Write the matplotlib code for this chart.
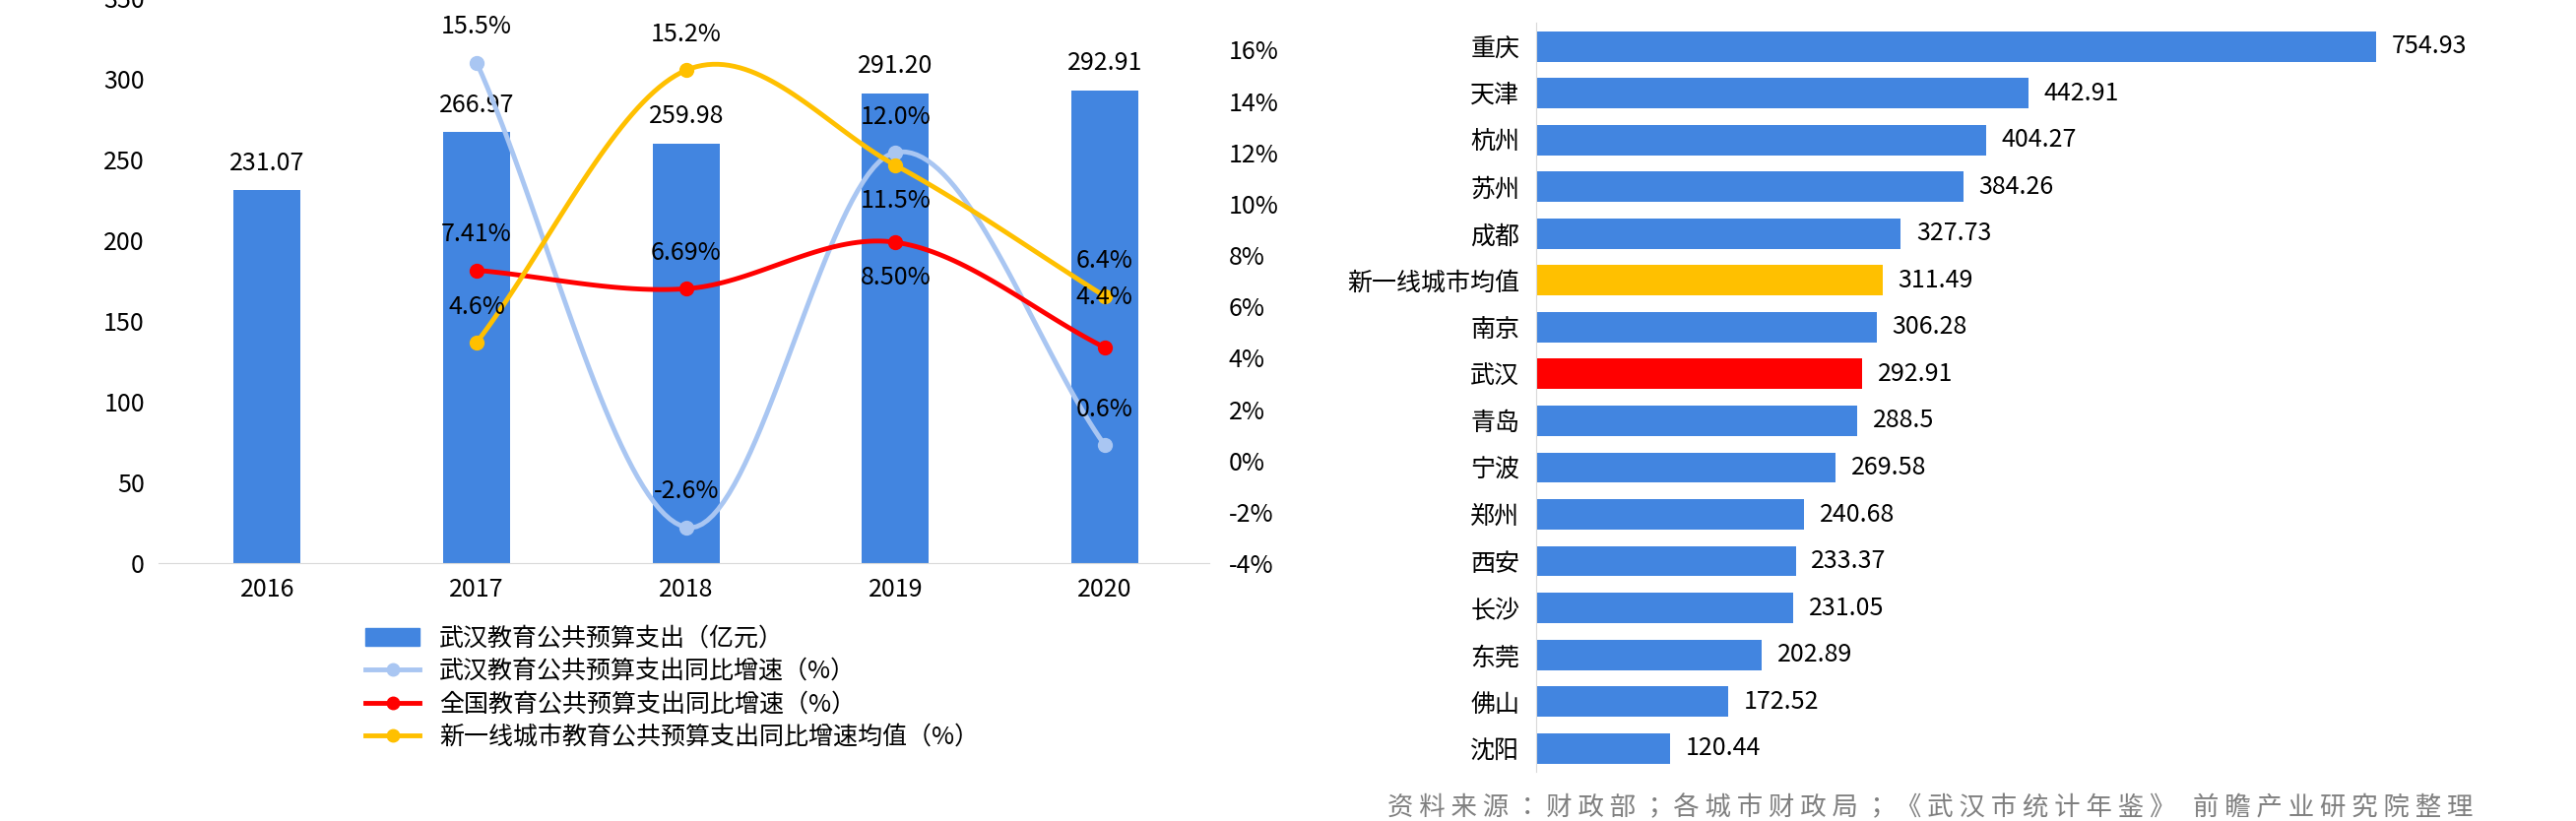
import matplotlib
matplotlib.use("Agg")
import matplotlib.pyplot as plt
from matplotlib import font_manager
import numpy as np
from matplotlib.lines import Line2D
from matplotlib.patches import Patch

# make sure a CJK face is registered
family = "Noto Sans CJK SC"
for f in font_manager.findSystemFonts():
    if "CJK" in f or "cjk" in f.lower():
        try:
            font_manager.fontManager.addfont(f)
        except Exception:
            pass
names_avail = {f.name for f in font_manager.fontManager.ttflist}
for cand in ["Noto Sans CJK SC", "Noto Sans CJK JP", "Noto Sans SC", "Noto Sans CJK TC"]:
    if cand in names_avail:
        family = cand
        break
plt.rcParams["font.family"] = [family, "DejaVu Sans"]

years = ["2016", "2017", "2018", "2019", "2020"]
wuhan_spend = [231.07, 266.97, 259.98, 291.20, 292.91]
growth_years = [1, 2, 3, 4]
wuhan_growth = [15.5, -2.6, 12.0, 0.6]
national_growth = [7.41, 6.69, 8.50, 4.4]
newtier_growth = [4.6, 15.2, 11.5, 6.4]

wuhan_labels = ["15.5%", "-2.6%", "12.0%", "0.6%"]
national_labels = ["7.41%", "6.69%", "8.50%", "4.4%"]
newtier_labels = ["4.6%", "15.2%", "11.5%", "6.4%"]

cities = ["重庆", "天津", "杭州", "苏州", "成都", "新一线城市均值", "南京", "武汉",
          "青岛", "宁波", "郑州", "西安", "长沙", "东莞", "佛山", "沈阳"]
city_spend = [754.93, 442.91, 404.27, 384.26, 327.73, 311.49, 306.28, 292.91,
              288.5, 269.58, 240.68, 233.37, 231.05, 202.89, 172.52, 120.44]
city_labels = ["754.93", "442.91", "404.27", "384.26", "327.73", "311.49", "306.28", "292.91",
               "288.5", "269.58", "240.68", "233.37", "231.05", "202.89", "172.52", "120.44"]

BLUE = "#4285E0"
LIGHT = "#A9C6F2"
RED = "#FF0000"
YELLOW = "#FFC000"
FS = 18


def smooth(xs, ys, n=40):
    # Catmull-Rom curve through the points, like Excel's smoothed lines
    xs = np.asarray(xs, float)
    ys = np.asarray(ys, float)
    px = np.concatenate([[2 * xs[0] - xs[1]], xs, [2 * xs[-1] - xs[-2]]])
    py = np.concatenate([[2 * ys[0] - ys[1]], ys, [2 * ys[-1] - ys[-2]]])
    outx, outy = [], []
    t = np.linspace(0, 1, n)
    for i in range(1, len(px) - 2):
        for p, out in ((px, outx), (py, outy)):
            p0, p1, p2, p3 = p[i - 1], p[i], p[i + 1], p[i + 2]
            out.extend(0.5 * (2 * p1 + (-p0 + p2) * t + (2 * p0 - 5 * p1 + 4 * p2 - p3) * t ** 2
                              + (-p0 + 3 * p1 - 3 * p2 + p3) * t ** 3))
    return outx, outy


fig = plt.figure(figsize=(26.16, 8.34), dpi=100)

# left: bars + growth lines
ax = fig.add_axes([0.0615, 0.314, 0.408, 0.688])
x = np.arange(len(years))
ax.bar(x, wuhan_spend, width=0.32, color=BLUE, zorder=2)
for xi, v in zip(x, wuhan_spend):
    ax.text(xi, v + 9, f"{v:.2f}", ha="center", va="bottom", fontsize=FS)
ax.set_xlim(-0.52, 4.5)
ax.set_ylim(0, 350)
ax.set_yticks(range(0, 351, 50))
ax.set_xticks(x)
ax.set_xticklabels(years)
ax.tick_params(labelsize=FS, length=0, pad=10)
for s in ["top", "right", "left"]:
    ax.spines[s].set_visible(False)
ax.spines["bottom"].set_color("#D9D9D9")

ax2 = ax.twinx()
ax2.set_ylim(-4, 18)
ax2.set_yticks(range(-4, 17, 2))
ax2.set_yticklabels([f"{v}%" for v in range(-4, 17, 2)])
ax2.tick_params(labelsize=FS, length=0, pad=14)
for s in ax2.spines.values():
    s.set_visible(False)

series = [
    (wuhan_growth, wuhan_labels, LIGHT, [1, 1, 1, 1]),
    (national_growth, national_labels, RED, [1, 1, -1, 1.4]),
    (newtier_growth, newtier_labels, YELLOW, [1, 1, -1, 1]),
]
for vals, labels, col, sides in series:
    sx, sy = smooth(growth_years, vals)
    ax2.plot(sx, sy, color=col, lw=3.5, zorder=3)
    ax2.plot(growth_years, vals, "o", color=col, ms=10, zorder=4)
    for gx, gv, lab, sd in zip(growth_years, vals, labels, sides):
        ax2.annotate(lab, (gx, gv), xytext=(0, 26 * sd), textcoords="offset points",
                     ha="center", va="center", fontsize=FS, zorder=5)

handles = [
    Patch(color=BLUE),
    Line2D([], [], color=LIGHT, lw=3.5, marker="o", ms=9),
    Line2D([], [], color=RED, lw=3.5, marker="o", ms=9),
    Line2D([], [], color=YELLOW, lw=3.5, marker="o", ms=9),
]
names = ["武汉教育公共预算支出（亿元）", "武汉教育公共预算支出同比增速（%）",
         "全国教育公共预算支出同比增速（%）", "新一线城市教育公共预算支出同比增速均值（%）"]
fig.legend(handles, names, loc="upper left", bbox_to_anchor=(0.138, 0.25), frameon=False,
           fontsize=FS, handlelength=2.2, labelspacing=0.3, borderaxespad=0)

# right: city ranking
bx = fig.add_axes([0.5963, 0.06, 0.367, 0.912])
colors = [BLUE] * len(cities)
colors[cities.index("新一线城市均值")] = YELLOW
colors[cities.index("武汉")] = RED
y = np.arange(len(cities))
bx.barh(y, city_spend, height=0.65, color=colors)
for yi, v, lab in zip(y, city_spend, city_labels):
    bx.text(v + 14, yi, lab, va="center", ha="left", fontsize=FS)
bx.set_ylim(15.5, -0.5)
bx.set_xlim(0, 850)
bx.set_yticks(y)
bx.set_yticklabels(cities)
bx.set_xticks([])
bx.tick_params(labelsize=FS, length=0, pad=12)
for s in ["top", "right", "bottom"]:
    bx.spines[s].set_visible(False)
bx.spines["left"].set_color("#D9D9D9")

fig.text(0.945, 1.005, "（单位：亿元）", ha="center", va="bottom", fontsize=24,
         fontweight="bold")
fig.text(0.96, 0.016, " ".join("资料来源：财政部；各城市财政局；《武汉市统计年鉴》") + "   " + " ".join("前瞻产业研究院整理"),
         ha="right", va="center", fontsize=19, color="#7F7F7F")

fig.savefig("out.png", dpi=100)
